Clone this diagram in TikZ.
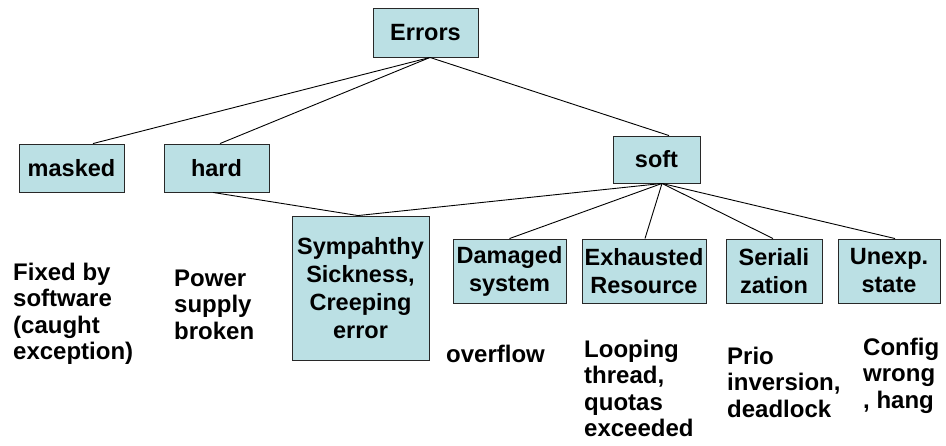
\documentclass[tikz,border=0pt]{standalone}
\usepackage{fontspec}
\setmainfont{Liberation Sans}
\definecolor{boxfill}{RGB}{187,224,228}
\definecolor{boxline}{RGB}{40,40,40}
\begin{document}
\begin{tikzpicture}[x=1pt,y=-1pt,
  box/.style={draw=boxline, line width=0.9pt, fill=boxfill, inner sep=0pt,
    align=center, font=\bfseries\fontsize{23.5}{28}\selectfont},
  note/.style={inner sep=0pt, align=left, anchor=base west,
    font=\bfseries\fontsize{24}{26.5}\selectfont},
  link/.style={draw=black, line width=0.9pt}]
\useasboundingbox (0,0) rectangle (946,445);

% tree boxes
\node[box, minimum width=105pt, minimum height=49pt] (errors) at (425.5,32.5) {Errors};
\node[box, minimum width=105pt, minimum height=48pt] (masked) at (71.5,168) {masked};
\node[box, minimum width=105pt, minimum height=48pt] (hard) at (216.5,168) {hard};
\node[box, minimum width=87pt, minimum height=47pt] (soft) at (656.5,159.5) {soft};
\node[box, minimum width=137pt, minimum height=144pt] (symp) at (360.5,288)
  {Sympahthy\\Sickness,\\Creeping\\error};
\node[box, minimum width=113pt, minimum height=64pt] (damaged) at (509.5,271) {Damaged\\system};
\node[box, minimum width=124pt, minimum height=64pt] (exhausted) at (644,271) {Exhausted\\Resource};
\node[box, minimum width=96pt, minimum height=64pt] (serial) at (774,271) {Seriali\\zation};
\node[box, minimum width=102pt, minimum height=64pt] (unexp) at (889,271) {Unexp.\\state};

% connectors
\draw[link] ([xshift=4.5pt]errors.south) -- ([xshift=21.5pt]masked.north);
\draw[link] ([xshift=4.5pt]errors.south) -- ([xshift=3.5pt]hard.north);
\draw[link] ([xshift=4.5pt]errors.south) -- ([xshift=12.5pt]soft.north);
\draw[link] ([xshift=-3.5pt]hard.south) -- ([xshift=-2.5pt]symp.north);
\draw[link] ([xshift=5.5pt]soft.south) -- ([xshift=-2.5pt]symp.north);
\draw[link] ([xshift=5.5pt]soft.south) -- (damaged.north);
\draw[link] ([xshift=5.5pt]soft.south) -- ([xshift=1pt]exhausted.north);
\draw[link] ([xshift=5.5pt]soft.south) -- ([xshift=-1pt]serial.north);
\draw[link] ([xshift=5.5pt]soft.south) -- ([xshift=6pt]unexp.north);

% example notes (anchored at the baseline of their last line)
\node[note] (n1) at (13,359.5) {Fixed by\\software\\(caught\\exception)};
\node[note] (n2) at (174,339) {Power\\supply\\broken};
\node[note] (n3) at (446,362) {overflow};
\node[note] (n4) at (584,436.5) {Looping\\thread,\\quotas\\exceeded};
\node[note] (n5) at (727,417) {Prio\\inversion,\\deadlock};
\node[note] (n6) at (863,408) {Config\\wrong\\, hang};
\end{tikzpicture}
\end{document}
